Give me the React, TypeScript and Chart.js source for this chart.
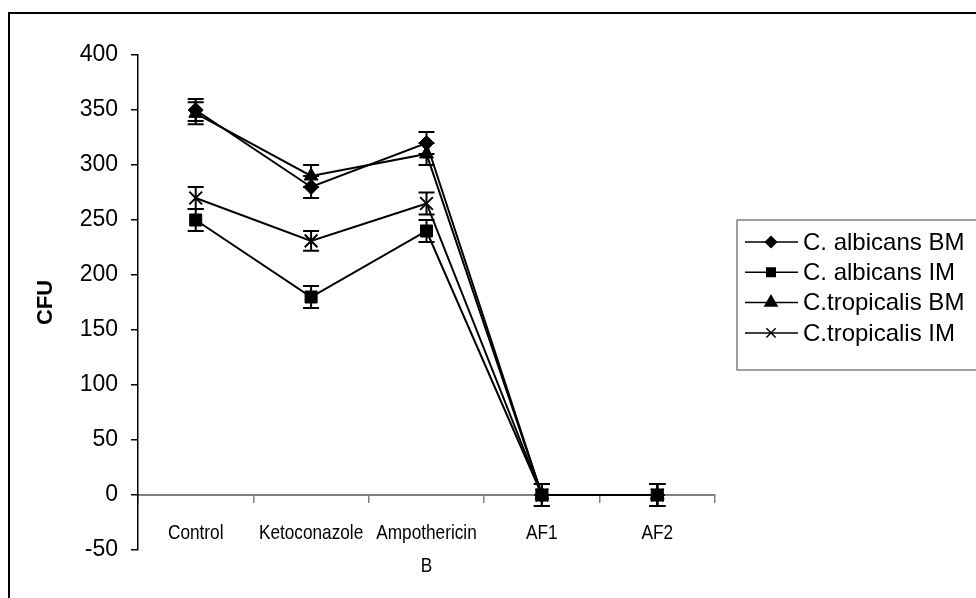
import React, { useEffect, useRef } from 'react';
import { Chart, registerables } from 'chart.js';
import { drawPoint } from 'chart.js/helpers';

Chart.register(...registerables);

const categories: (string | string[])[] = ['Control', 'Ketoconazole', ['Ampothericin', 'B'], 'AF1', 'AF2'];
const seriesNames = ['C. albicans BM', 'C. albicans IM', 'C.tropicalis BM', 'C.tropicalis IM'];
const seriesStyles = ['rectRot', 'rect', 'triangle', 'crossRot'];
const albicansBM = [350, 280, 320, 0, 0];
const albicansIM = [250, 180, 240, 0, 0];
const tropicalisBM = [347, 290, 310, 0, 0];
const tropicalisIM = [270, 231, 265, 0, 0];
const albicansBMErr = [10, 10, 10, 10, 10];
const albicansIMErr = [10, 10, 10, 10, 10];
const tropicalisBMErr = [10, 10, 10, 10, 10];
const tropicalisIMErr = [10, 9, 10, 10, 10];
const yMin = -50;
const yMax = 400;
const yStep = 50;
const yTitle = 'CFU';

const pointRadii = [7.5, 8.5, 8, 9];
const legendRadii = [5.5, 6, 7, 6.5];

const framePlugin = {
  id: 'frame',
  beforeDraw(chart: any) {
    const ctx = chart.ctx;
    ctx.save();
    ctx.fillStyle = '#fff';
    ctx.fillRect(0, 0, chart.width, chart.height);
    ctx.strokeStyle = '#000';
    ctx.lineWidth = 2;
    ctx.beginPath();
    ctx.moveTo(9, chart.height);
    ctx.lineTo(9, 13);
    ctx.lineTo(chart.width, 13);
    ctx.stroke();
    ctx.restore();
  },
};

// Category labels drawn through the x scale, in a condensed (narrow) face
const narrowLabelsPlugin = {
  id: 'narrowLabels',
  afterDraw(chart: any) {
    const ctx = chart.ctx;
    const xs = chart.scales.x;
    const zeroY = chart.scales.y.getPixelForValue(0);
    ctx.save();
    ctx.fillStyle = '#000';
    ctx.font = '21px "Liberation Sans", Arial, sans-serif';
    ctx.textAlign = 'center';
    ctx.textBaseline = 'middle';
    (chart.data.labels as any[]).forEach((lab: any, idx: number) => {
      const lines = Array.isArray(lab) ? lab : [lab];
      const x = xs.getPixelForValue(idx);
      lines.forEach((line: string, k: number) => {
        ctx.save();
        ctx.translate(x, zeroY + 38 + k * 33);
        ctx.scale(0.82, 1);
        ctx.fillText(line, 0, 0);
        ctx.restore();
      });
    });
    ctx.restore();
  },
};

const errorBarPlugin = {
  id: 'errorBars',
  afterDatasetsDraw(chart: any) {
    const ctx = chart.ctx;
    const yScale = chart.scales.y;
    ctx.save();
    ctx.strokeStyle = '#000';
    ctx.lineWidth = 2;
    chart.data.datasets.forEach((ds: any, i: number) => {
      const meta = chart.getDatasetMeta(i);
      meta.data.forEach((pt: any, j: number) => {
        const v = ds.data[j];
        const e = ds.errors[j];
        const x = pt.x;
        const yTop = yScale.getPixelForValue(v + e);
        const yBot = yScale.getPixelForValue(v - e);
        ctx.beginPath();
        ctx.moveTo(x, yTop);
        ctx.lineTo(x, yBot);
        ctx.moveTo(x - 8, yTop);
        ctx.lineTo(x + 8, yTop);
        ctx.moveTo(x - 8, yBot);
        ctx.lineTo(x + 8, yBot);
        ctx.stroke();
      });
    });
    ctx.restore();
  },
};

const legendPlugin = {
  id: 'boxLegend',
  afterDraw(chart: any) {
    const ctx = chart.ctx;
    ctx.save();
    ctx.strokeStyle = '#808080';
    ctx.lineWidth = 1.5;
    ctx.strokeRect(737, 220, 300, 150);
    ctx.font = '24px "Liberation Sans", Arial, sans-serif';
    ctx.textBaseline = 'middle';
    ctx.textAlign = 'left';
    chart.data.datasets.forEach((ds: any, i: number) => {
      const y = 242 + i * 30.3;
      ctx.strokeStyle = '#000';
      ctx.fillStyle = '#000';
      ctx.lineWidth = 1.5;
      ctx.beginPath();
      ctx.moveTo(745, y);
      ctx.lineTo(798, y);
      ctx.stroke();
      drawPoint(ctx, { pointStyle: ds.pointStyle, radius: legendRadii[i], rotation: 0, borderWidth: 1.5 } as any, 771, y);
      ctx.fillStyle = '#000';
      ctx.fillText(ds.label, 803, y + 1);
    });
    ctx.restore();
  },
};

export default function App() {
  const ref = useRef<HTMLCanvasElement>(null);
  useEffect(() => {
    const values = [albicansBM, albicansIM, tropicalisBM, tropicalisIM];
    const errs = [albicansBMErr, albicansIMErr, tropicalisBMErr, tropicalisIMErr];
    const chart = new Chart(ref.current as HTMLCanvasElement, {
      type: 'line',
      data: {
        labels: categories as any,
        datasets: seriesNames.map((name, i) => ({
          label: name,
          data: values[i],
          errors: errs[i],
          borderColor: '#000',
          backgroundColor: '#000',
          borderWidth: 2,
          pointStyle: seriesStyles[i],
          pointRadius: pointRadii[i],
          pointBackgroundColor: '#000',
          pointBorderColor: '#000',
          pointBorderWidth: i === 3 ? 2 : 1,
          tension: 0,
          fill: false,
        })) as any,
      },
      options: {
        animation: false,
        responsive: false,
        devicePixelRatio: 1,
        layout: { padding: { left: 0, top: 55, right: 261, bottom: 48 } },
        plugins: {
          legend: { display: false },
          tooltip: { enabled: false },
        },
        scales: {
          x: {
            type: 'category',
            offset: true,
            position: { y: 0 } as any,
            grid: { offset: true, drawOnChartArea: false, drawTicks: true, tickLength: 7, color: '#808080', lineWidth: 1.5 },
            border: { color: '#808080', width: 2 },
            ticks: {
              display: false,
              autoSkip: false,
            },
          },
          y: {
            min: yMin,
            max: yMax,
            afterFit: (s: any) => { s.width = 138; },
            grid: { drawOnChartArea: false, drawTicks: true, tickLength: 7, color: '#000', lineWidth: 1.5 },
            border: { color: '#000', width: 1.5 },
            ticks: {
              stepSize: yStep,
              color: '#000',
              padding: 13,
              font: { family: '"Liberation Sans", Arial', size: 23 },
            },
            title: {
              display: true,
              text: yTitle,
              color: '#000',
              font: { family: '"Liberation Sans", Arial', size: 22, weight: 'bold' },
              padding: { top: 33, bottom: 0 },
            },
          },
        },
      },
      plugins: [framePlugin, errorBarPlugin, narrowLabelsPlugin, legendPlugin],
    } as any);
    return () => chart.destroy();
  }, []);
  return (
    <div style={{ position: 'absolute', left: 0, top: 0, width: 976, height: 598, background: '#fff' }}>
      <canvas ref={ref} width={976} height={598} style={{ display: 'block', width: 976, height: 598 }} />
    </div>
  );
}
